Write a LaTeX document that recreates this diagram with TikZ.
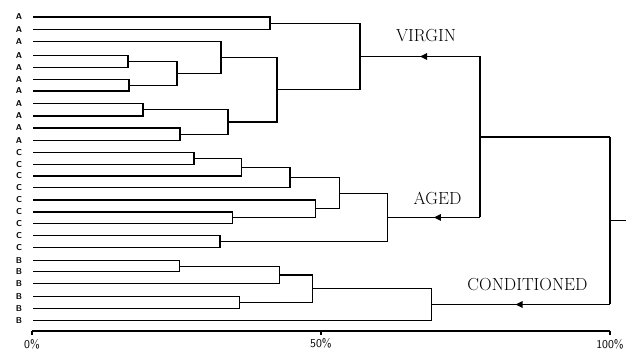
\documentclass[tikz,border=0pt]{standalone}
\usepackage{amsmath}
\usepackage{tikz}
\usetikzlibrary{calc,positioning,arrows.meta,decorations.markings}

% bracket joining two clusters at height #1
\newcommand{\clusterlink}[4]{%
  \coordinate (x#4) at (#1,0);
  \draw (#2) -- (#2 -| x#4) -- (#3 -| x#4) -- (#3);
  \coordinate (#4) at ($(#2 -| x#4)!0.5!(#3 -| x#4)$);
}

\tikzset{
  leaflabel/.style={font=\fontsize{8.5}{9}\sffamily\bfseries, inner sep=0pt},
  grouplabel/.style={font=\fontsize{17.5}{20}\selectfont, inner sep=0pt},
  axislabel/.style={font=\fontsize{12}{13}\sffamily, inner sep=0pt},
  flow/.style={postaction={decorate}, decoration={markings,
      mark=at position #1 with {\arrow{Triangle[length=7pt,width=6.5pt]}}}},
  flow/.default=0.5
}

\begin{document}
\begin{tikzpicture}[x=1pt, y=-1pt, line width=1.1pt]
		\useasboundingbox (0,0) rectangle (626,351);

		% leaves
		\foreach \y/\g [count=\i] in {17/A, 29.5/A, 41.7/A, 55.3/A, 67.5/A, 79.5/A, 91/A,
			103.5/A, 116/A, 128/A, 140.3/A, 152.5/C, 164.5/C, 176/C, 187.3/C, 200/C,
			212/C, 223.5/C, 235.8/C, 247.8/C, 260.7/B, 271.7/B, 283.7/B, 296.5/B,
			308.3/B, 320.3/B}
		{
			\node[leaflabel] (t\i) at (19,\y) {\g};
			\coordinate (l\i) at (33,\y);
		}

		% virgin
		\clusterlink{270}{l1}{l2}{m12}
		\clusterlink{128}{l4}{l5}{m45}
		\clusterlink{129}{l6}{l7}{m67}
		\clusterlink{177}{m45}{m67}{m47}
		\clusterlink{221}{l3}{m47}{m37}
		\clusterlink{143}{l8}{l9}{m89}
		\clusterlink{180}{l10}{l11}{m1011}
		\clusterlink{228}{m89}{m1011}{m811}
		\clusterlink{277}{m37}{m811}{m311}
		\clusterlink{360}{m12}{m311}{virgin}

		% aged
		\clusterlink{194}{l12}{l13}{m1213}
		\clusterlink{241.7}{m1213}{l14}{m1214}
		\clusterlink{290}{m1214}{l15}{m1215}
		\clusterlink{232.7}{l17}{l18}{m1718}
		\clusterlink{315.7}{l16}{m1718}{m1618}
		\clusterlink{339.3}{m1215}{m1618}{m1218}
		\clusterlink{220}{l19}{l20}{m1920}
		\clusterlink{387.7}{m1218}{m1920}{aged}

		% conditioned
		\clusterlink{179.3}{l21}{l22}{m2122}
		\clusterlink{279.3}{m2122}{l23}{m2123}
		\clusterlink{239.3}{l24}{l25}{m2425}
		\clusterlink{312.7}{m2123}{m2425}{m2125}
		\clusterlink{431.7}{m2125}{l26}{cond}

		% top levels with arrows
		\coordinate (xtop) at (480,0);
		\draw[flow] (virgin -| xtop) -- (virgin);
		\draw[flow] (aged -| xtop) -- (aged);
		\draw (virgin -| xtop) -- (aged -| xtop);
		\coordinate (top) at ($(virgin -| xtop)!0.5!(aged -| xtop)$);

		\coordinate (xroot) at (610,0);
		\draw (top) -- (top -| xroot);
		\draw[flow=0.53] (cond -| xroot) -- (cond);
		\draw (top -| xroot) -- (cond -| xroot);
		\coordinate (root) at ($(top -| xroot)!0.5!(cond -| xroot)$);
		\coordinate (rootend) at (626,0);
		\draw (root) -- (root -| rootend);

		\node[grouplabel] (virginlabel) at (426,36) {VIRGIN};
		\node[grouplabel] (agedlabel) at (437.5,198.5) {AGED};
		\node[grouplabel] (condlabel) at (527.5,285) {CONDITIONED};

		% axis
		\coordinate (a0) at (32,331);
		\coordinate (a50) at (321,331);
		\coordinate (a100) at (610,331);
		\draw (a0) -- (a100);
		\foreach \p in {a0,a50,a100}
			\draw (\p) -- ++(0,4);
		\node[axislabel, below=8pt of a0] (p0) {0\%};
		\node[axislabel, below=7pt of a50] (p50) {50\%};
		\node[axislabel, below=8pt of a100] (p100) {100\%};
	\end{tikzpicture}
\end{document}
